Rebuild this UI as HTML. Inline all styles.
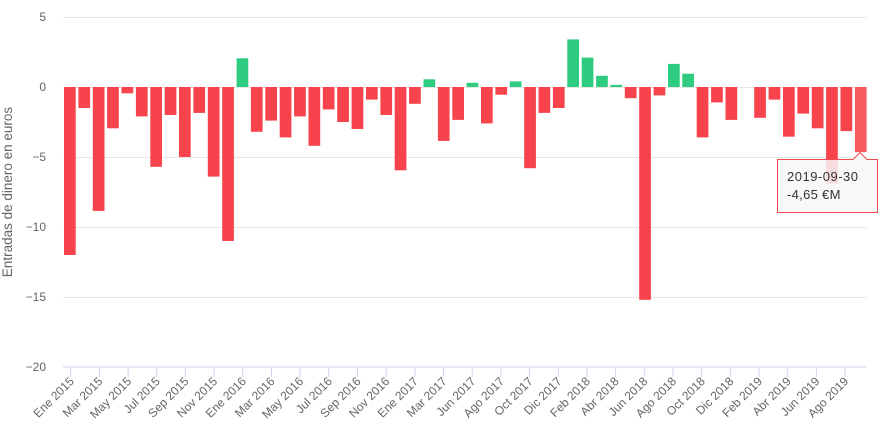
<!DOCTYPE html>
<html><head><meta charset="utf-8"><style>
html,body{margin:0;padding:0;background:#fff;}
svg{display:block;font-family:"Liberation Sans","DejaVu Sans",sans-serif;}
.r{fill:#f7434b}.g{fill:#2ecc80}
.xl{font-size:12px;fill:#666;text-anchor:end}
</style></head><body>
<svg width="884" height="434" viewBox="0 0 884 434" xmlns="http://www.w3.org/2000/svg">
<g stroke="#e6e6e6" stroke-width="1">
<line x1="63" y1="17.5" x2="867" y2="17.5"/>
<line x1="63" y1="87.5" x2="867" y2="87.5"/>
<line x1="63" y1="157.5" x2="867" y2="157.5"/>
<line x1="63" y1="227.5" x2="867" y2="227.5"/>
<line x1="63" y1="297.5" x2="867" y2="297.5"/>
</g>
<line x1="63" y1="367" x2="867" y2="367" stroke="#ccd6eb" stroke-width="1"/>
<g fill="#666" font-size="12" text-anchor="end">
<text x="46" y="21">5</text>
<text x="46" y="91">0</text>
<text x="46" y="161">−5</text>
<text x="46" y="231">−10</text>
<text x="46" y="301">−15</text>
<text x="46" y="371">−20</text>
</g>
<text transform="translate(12,192) rotate(-90)" text-anchor="middle" fill="#666" font-size="13.5">Entradas de dinero en euros</text>
<g>
<rect class="r" x="64.0" y="87" width="11.7" height="168"/>
<rect class="r" x="78.4" y="87" width="11.7" height="21"/>
<rect class="r" x="92.8" y="87" width="11.7" height="123.9"/>
<rect class="r" x="107.1" y="87" width="11.7" height="41.3"/>
<rect class="r" x="121.5" y="87" width="11.7" height="6.3"/>
<rect class="r" x="135.9" y="87" width="11.7" height="29.4"/>
<rect class="r" x="150.3" y="87" width="11.7" height="79.8"/>
<rect class="r" x="164.7" y="87" width="11.7" height="28"/>
<rect class="r" x="179.0" y="87" width="11.7" height="70"/>
<rect class="r" x="193.4" y="87" width="11.7" height="25.9"/>
<rect class="r" x="207.8" y="87" width="11.7" height="89.6"/>
<rect class="r" x="222.2" y="87" width="11.7" height="154"/>
<rect class="g" x="236.6" y="58.3" width="11.7" height="28.7"/>
<rect class="r" x="250.9" y="87" width="11.7" height="44.8"/>
<rect class="r" x="265.3" y="87" width="11.7" height="33.6"/>
<rect class="r" x="279.7" y="87" width="11.7" height="50.4"/>
<rect class="r" x="294.1" y="87" width="11.7" height="29.4"/>
<rect class="r" x="308.5" y="87" width="11.7" height="58.8"/>
<rect class="r" x="322.8" y="87" width="11.7" height="22.4"/>
<rect class="r" x="337.2" y="87" width="11.7" height="35"/>
<rect class="r" x="351.6" y="87" width="11.7" height="42"/>
<rect class="r" x="366.0" y="87" width="11.7" height="12.6"/>
<rect class="r" x="380.4" y="87" width="11.7" height="28"/>
<rect class="r" x="394.7" y="87" width="11.7" height="83.3"/>
<rect class="r" x="409.1" y="87" width="11.7" height="16.8"/>
<rect class="g" x="423.5" y="79.3" width="11.7" height="7.7"/>
<rect class="r" x="437.9" y="87" width="11.7" height="53.9"/>
<rect class="r" x="452.3" y="87" width="11.7" height="32.9"/>
<rect class="g" x="466.6" y="82.8" width="11.7" height="4.2"/>
<rect class="r" x="481.0" y="87" width="11.7" height="36.4"/>
<rect class="r" x="495.4" y="87" width="11.7" height="7.7"/>
<rect class="g" x="509.8" y="81.4" width="11.7" height="5.6"/>
<rect class="r" x="524.2" y="87" width="11.7" height="81.2"/>
<rect class="r" x="538.5" y="87" width="11.7" height="25.9"/>
<rect class="r" x="552.9" y="87" width="11.7" height="21"/>
<rect class="g" x="567.3" y="39.4" width="11.7" height="47.6"/>
<rect class="g" x="581.7" y="57.6" width="11.7" height="29.4"/>
<rect class="g" x="596.1" y="75.8" width="11.7" height="11.2"/>
<rect class="g" x="610.4" y="84.9" width="11.7" height="2.1"/>
<rect class="r" x="624.8" y="87" width="11.7" height="11.2"/>
<rect class="r" x="639.2" y="87" width="11.7" height="212.8"/>
<rect class="r" x="653.6" y="87" width="11.7" height="8.4"/>
<rect class="g" x="668.0" y="63.9" width="11.7" height="23.1"/>
<rect class="g" x="682.3" y="73.7" width="11.7" height="13.3"/>
<rect class="r" x="696.7" y="87" width="11.7" height="50.4"/>
<rect class="r" x="711.1" y="87" width="11.7" height="15.4"/>
<rect class="r" x="725.5" y="87" width="11.7" height="32.9"/>
<rect class="r" x="754.2" y="87" width="11.7" height="30.8"/>
<rect class="r" x="768.6" y="87" width="11.7" height="12.6"/>
<rect class="r" x="783.0" y="87" width="11.7" height="49.7"/>
<rect class="r" x="797.4" y="87" width="11.7" height="26.6"/>
<rect class="r" x="811.8" y="87" width="11.7" height="41.3"/>
<rect class="r" x="826.1" y="87" width="11.7" height="96.6"/>
<rect class="r" x="840.5" y="87" width="11.7" height="44.1"/>
<rect x="854.9" y="87" width="11.7" height="65.1" fill="#f75a5f"/>
</g>
<g stroke="#ccd6eb" stroke-width="1">
<line x1="70.7" y1="367" x2="70.7" y2="377"/><line x1="99.4" y1="367" x2="99.4" y2="377"/><line x1="128.1" y1="367" x2="128.1" y2="377"/><line x1="156.7" y1="367" x2="156.7" y2="377"/><line x1="185.4" y1="367" x2="185.4" y2="377"/><line x1="214.1" y1="367" x2="214.1" y2="377"/><line x1="242.8" y1="367" x2="242.8" y2="377"/><line x1="271.5" y1="367" x2="271.5" y2="377"/><line x1="300.1" y1="367" x2="300.1" y2="377"/><line x1="328.8" y1="367" x2="328.8" y2="377"/><line x1="357.5" y1="367" x2="357.5" y2="377"/><line x1="386.2" y1="367" x2="386.2" y2="377"/><line x1="414.9" y1="367" x2="414.9" y2="377"/><line x1="443.5" y1="367" x2="443.5" y2="377"/><line x1="472.2" y1="367" x2="472.2" y2="377"/><line x1="500.9" y1="367" x2="500.9" y2="377"/><line x1="529.6" y1="367" x2="529.6" y2="377"/><line x1="558.3" y1="367" x2="558.3" y2="377"/><line x1="586.9" y1="367" x2="586.9" y2="377"/><line x1="615.6" y1="367" x2="615.6" y2="377"/><line x1="644.3" y1="367" x2="644.3" y2="377"/><line x1="673.0" y1="367" x2="673.0" y2="377"/><line x1="701.7" y1="367" x2="701.7" y2="377"/><line x1="730.3" y1="367" x2="730.3" y2="377"/><line x1="759.0" y1="367" x2="759.0" y2="377"/><line x1="787.7" y1="367" x2="787.7" y2="377"/><line x1="816.4" y1="367" x2="816.4" y2="377"/><line x1="845.1" y1="367" x2="845.1" y2="377"/>
</g>
<g>
<text class="xl" transform="translate(74.7,382) rotate(-45)">Ene 2015</text>
<text class="xl" transform="translate(103.4,382) rotate(-45)">Mar 2015</text>
<text class="xl" transform="translate(132.1,382) rotate(-45)">May 2015</text>
<text class="xl" transform="translate(160.7,382) rotate(-45)">Jul 2015</text>
<text class="xl" transform="translate(189.4,382) rotate(-45)">Sep 2015</text>
<text class="xl" transform="translate(218.1,382) rotate(-45)">Nov 2015</text>
<text class="xl" transform="translate(246.8,382) rotate(-45)">Ene 2016</text>
<text class="xl" transform="translate(275.5,382) rotate(-45)">Mar 2016</text>
<text class="xl" transform="translate(304.1,382) rotate(-45)">May 2016</text>
<text class="xl" transform="translate(332.8,382) rotate(-45)">Jul 2016</text>
<text class="xl" transform="translate(361.5,382) rotate(-45)">Sep 2016</text>
<text class="xl" transform="translate(390.2,382) rotate(-45)">Nov 2016</text>
<text class="xl" transform="translate(418.9,382) rotate(-45)">Ene 2017</text>
<text class="xl" transform="translate(447.5,382) rotate(-45)">Mar 2017</text>
<text class="xl" transform="translate(476.2,382) rotate(-45)">Jun 2017</text>
<text class="xl" transform="translate(504.9,382) rotate(-45)">Ago 2017</text>
<text class="xl" transform="translate(533.6,382) rotate(-45)">Oct 2017</text>
<text class="xl" transform="translate(562.3,382) rotate(-45)">Dic 2017</text>
<text class="xl" transform="translate(590.9,382) rotate(-45)">Feb 2018</text>
<text class="xl" transform="translate(619.6,382) rotate(-45)">Abr 2018</text>
<text class="xl" transform="translate(648.3,382) rotate(-45)">Jun 2018</text>
<text class="xl" transform="translate(677.0,382) rotate(-45)">Ago 2018</text>
<text class="xl" transform="translate(705.7,382) rotate(-45)">Oct 2018</text>
<text class="xl" transform="translate(734.3,382) rotate(-45)">Dic 2018</text>
<text class="xl" transform="translate(763.0,382) rotate(-45)">Feb 2019</text>
<text class="xl" transform="translate(791.7,382) rotate(-45)">Abr 2019</text>
<text class="xl" transform="translate(820.4,382) rotate(-45)">Jun 2019</text>
<text class="xl" transform="translate(849.1,382) rotate(-45)">Ago 2019</text>
</g>
<g>
<path d="M777.5,159.5 H853 L860,152.5 L867,159.5 H877.5 V212.5 H777.5 Z" fill="rgba(247,247,247,0.85)" stroke="#f04a4f" stroke-width="1"/>
<text x="787" y="181" font-size="13" fill="#333" letter-spacing="0.5">2019-09-30</text>
<text x="787" y="199" font-size="13" fill="#333" letter-spacing="0.3">-4,65 €M</text>
</g>
</svg>
</body></html>
